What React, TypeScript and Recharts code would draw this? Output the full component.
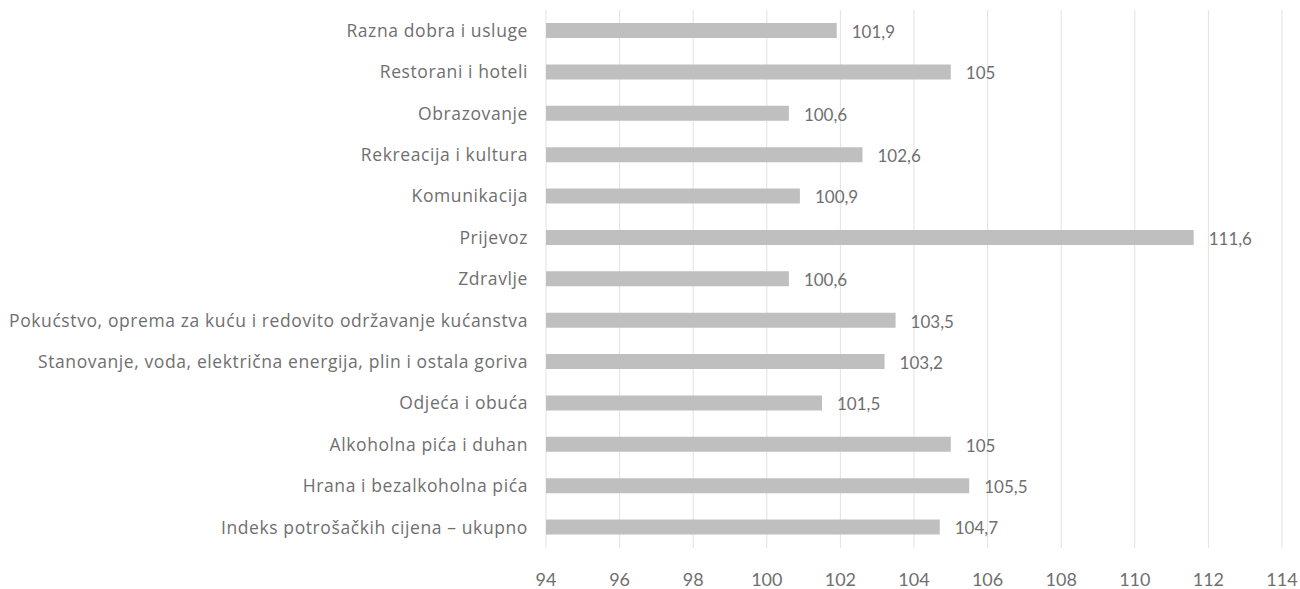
import React from 'react';
import { BarChart, Bar, XAxis, YAxis, CartesianGrid, LabelList } from 'recharts';

const categories: string[] = [
  'Razna dobra i usluge',
  'Restorani i hoteli',
  'Obrazovanje',
  'Rekreacija i kultura',
  'Komunikacija',
  'Prijevoz',
  'Zdravlje',
  'Pokućstvo, oprema za kuću i redovito održavanje kućanstva',
  'Stanovanje, voda, električna energija, plin i ostala goriva',
  'Odjeća i obuća',
  'Alkoholna pića i duhan',
  'Hrana i bezalkoholna pića',
  'Indeks potrošačkih cijena – ukupno',
];

const values: number[] = [101.9, 105, 100.6, 102.6, 100.9, 111.6, 100.6, 103.5, 103.2, 101.5, 105, 105.5, 104.7];

const xTicks: number[] = [94, 96, 98, 100, 102, 104, 106, 108, 110, 112, 114];

const data = categories.map((name, i) => ({ name, value: values[i] }));

const FONT = '"Open Sans", Lato, sans-serif';
const NUMFONT = 'Lato, "Open Sans", sans-serif';
const TEXT = '#6f6f6f';

const renderLabel = (props: any) => {
  const { x, y, width, height, value } = props;
  return (
    <text
      x={x + width + 15}
      y={y + height / 2 + 3}
      dominantBaseline="middle"
      fill={TEXT}
      fontSize={17}
      fontFamily={NUMFONT}
    >
      {String(value).replace('.', ',')}
    </text>
  );
};

export default function App() {
  return (
    <div style={{ position: 'absolute', left: 0, top: 0, width: 1300, height: 589, background: '#fff' }}>
      <BarChart
        width={1300}
        height={589}
        data={data}
        layout="vertical"
        margin={{ top: 10, right: 18, bottom: 0, left: 0 }}
      >
        <CartesianGrid horizontal={false} vertical={true} stroke="#e2e2e2" strokeWidth={1} />
        <XAxis
          type="number"
          domain={[94, 114]}
          ticks={xTicks}
          allowDataOverflow
          axisLine={false}
          tickLine={false}
          tickMargin={19}
          height={41}
          interval={0}
          tick={{ fill: TEXT, fontSize: 18, fontFamily: NUMFONT }}
        />
        <YAxis
          type="category"
          dataKey="name"
          width={546}
          axisLine={false}
          tickLine={false}
          tickMargin={12}
          interval={0}
          tick={{ fill: TEXT, fontSize: 17.5, fontFamily: FONT, letterSpacing: 0.6 }}
        />
        <Bar dataKey="value" fill="#bfbfbf" barSize={15} isAnimationActive={false}>
          <LabelList dataKey="value" content={renderLabel} />
        </Bar>
      </BarChart>
    </div>
  );
}
